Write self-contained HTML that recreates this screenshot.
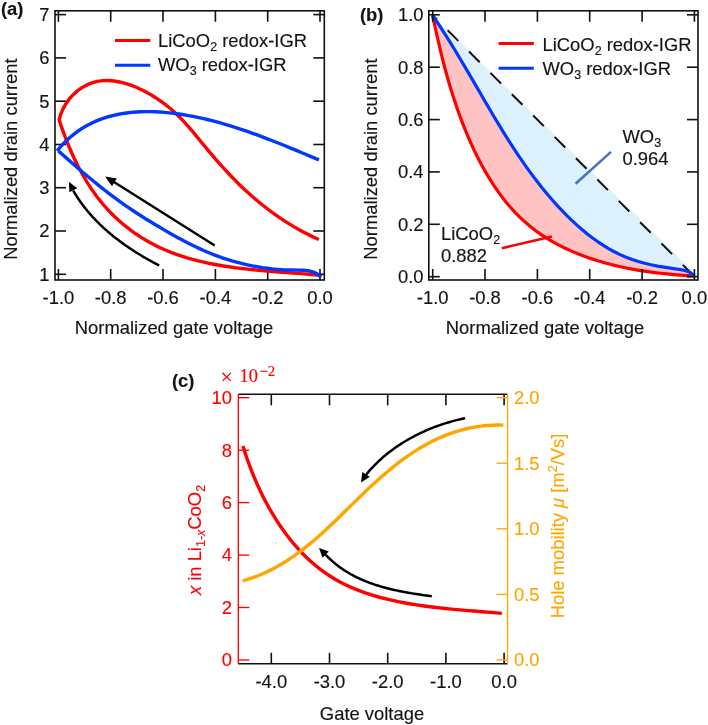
<!DOCTYPE html>
<html><head><meta charset="utf-8"><style>
html,body{margin:0;padding:0;background:#fff;}
svg{display:block;will-change:transform;}
</style></head><body>
<svg width="708" height="725" viewBox="0 0 708 725">
<rect width="708" height="725" fill="#fff"/>
<rect x="55" y="10.8" width="269.3" height="269.2" fill="none" stroke="#111" stroke-width="1.6"/>
<line x1="58.4" y1="280" x2="58.4" y2="269" stroke="#111" stroke-width="1.6"/>
<line x1="58.4" y1="10.8" x2="58.4" y2="21.8" stroke="#111" stroke-width="1.6"/>
<line x1="110.7" y1="280" x2="110.7" y2="269" stroke="#111" stroke-width="1.6"/>
<line x1="110.7" y1="10.8" x2="110.7" y2="21.8" stroke="#111" stroke-width="1.6"/>
<line x1="163.0" y1="280" x2="163.0" y2="269" stroke="#111" stroke-width="1.6"/>
<line x1="163.0" y1="10.8" x2="163.0" y2="21.8" stroke="#111" stroke-width="1.6"/>
<line x1="215.4" y1="280" x2="215.4" y2="269" stroke="#111" stroke-width="1.6"/>
<line x1="215.4" y1="10.8" x2="215.4" y2="21.8" stroke="#111" stroke-width="1.6"/>
<line x1="267.7" y1="280" x2="267.7" y2="269" stroke="#111" stroke-width="1.6"/>
<line x1="267.7" y1="10.8" x2="267.7" y2="21.8" stroke="#111" stroke-width="1.6"/>
<line x1="320.0" y1="280" x2="320.0" y2="269" stroke="#111" stroke-width="1.6"/>
<line x1="320.0" y1="10.8" x2="320.0" y2="21.8" stroke="#111" stroke-width="1.6"/>
<line x1="55" y1="274.3" x2="66" y2="274.3" stroke="#111" stroke-width="1.6"/>
<line x1="324.3" y1="274.3" x2="313.3" y2="274.3" stroke="#111" stroke-width="1.6"/>
<line x1="55" y1="231.0" x2="66" y2="231.0" stroke="#111" stroke-width="1.6"/>
<line x1="324.3" y1="231.0" x2="313.3" y2="231.0" stroke="#111" stroke-width="1.6"/>
<line x1="55" y1="187.7" x2="66" y2="187.7" stroke="#111" stroke-width="1.6"/>
<line x1="324.3" y1="187.7" x2="313.3" y2="187.7" stroke="#111" stroke-width="1.6"/>
<line x1="55" y1="144.5" x2="66" y2="144.5" stroke="#111" stroke-width="1.6"/>
<line x1="324.3" y1="144.5" x2="313.3" y2="144.5" stroke="#111" stroke-width="1.6"/>
<line x1="55" y1="101.2" x2="66" y2="101.2" stroke="#111" stroke-width="1.6"/>
<line x1="324.3" y1="101.2" x2="313.3" y2="101.2" stroke="#111" stroke-width="1.6"/>
<line x1="55" y1="57.9" x2="66" y2="57.9" stroke="#111" stroke-width="1.6"/>
<line x1="324.3" y1="57.9" x2="313.3" y2="57.9" stroke="#111" stroke-width="1.6"/>
<line x1="55" y1="14.6" x2="66" y2="14.6" stroke="#111" stroke-width="1.6"/>
<line x1="324.3" y1="14.6" x2="313.3" y2="14.6" stroke="#111" stroke-width="1.6"/>
<text x="58.4" y="304" font-family='"Liberation Sans", sans-serif' font-size="18.4" text-anchor="middle" fill="#141414" stroke="#141414" stroke-width="0.15" font-weight="normal" >-1.0</text>
<text x="110.7" y="304" font-family='"Liberation Sans", sans-serif' font-size="18.4" text-anchor="middle" fill="#141414" stroke="#141414" stroke-width="0.15" font-weight="normal" >-0.8</text>
<text x="163.0" y="304" font-family='"Liberation Sans", sans-serif' font-size="18.4" text-anchor="middle" fill="#141414" stroke="#141414" stroke-width="0.15" font-weight="normal" >-0.6</text>
<text x="215.4" y="304" font-family='"Liberation Sans", sans-serif' font-size="18.4" text-anchor="middle" fill="#141414" stroke="#141414" stroke-width="0.15" font-weight="normal" >-0.4</text>
<text x="267.7" y="304" font-family='"Liberation Sans", sans-serif' font-size="18.4" text-anchor="middle" fill="#141414" stroke="#141414" stroke-width="0.15" font-weight="normal" >-0.2</text>
<text x="320.0" y="304" font-family='"Liberation Sans", sans-serif' font-size="18.4" text-anchor="middle" fill="#141414" stroke="#141414" stroke-width="0.15" font-weight="normal" >0.0</text>
<text x="49.5" y="280.6" font-family='"Liberation Sans", sans-serif' font-size="18.4" text-anchor="end" fill="#141414" stroke="#141414" stroke-width="0.15" font-weight="normal" >1</text>
<text x="49.5" y="237.3" font-family='"Liberation Sans", sans-serif' font-size="18.4" text-anchor="end" fill="#141414" stroke="#141414" stroke-width="0.15" font-weight="normal" >2</text>
<text x="49.5" y="194.0" font-family='"Liberation Sans", sans-serif' font-size="18.4" text-anchor="end" fill="#141414" stroke="#141414" stroke-width="0.15" font-weight="normal" >3</text>
<text x="49.5" y="150.8" font-family='"Liberation Sans", sans-serif' font-size="18.4" text-anchor="end" fill="#141414" stroke="#141414" stroke-width="0.15" font-weight="normal" >4</text>
<text x="49.5" y="107.5" font-family='"Liberation Sans", sans-serif' font-size="18.4" text-anchor="end" fill="#141414" stroke="#141414" stroke-width="0.15" font-weight="normal" >5</text>
<text x="49.5" y="64.2" font-family='"Liberation Sans", sans-serif' font-size="18.4" text-anchor="end" fill="#141414" stroke="#141414" stroke-width="0.15" font-weight="normal" >6</text>
<text x="49.5" y="20.9" font-family='"Liberation Sans", sans-serif' font-size="18.4" text-anchor="end" fill="#141414" stroke="#141414" stroke-width="0.15" font-weight="normal" >7</text>
<text x="174" y="334" font-family='"Liberation Sans", sans-serif' font-size="18.4" text-anchor="middle" fill="#141414" stroke="#141414" stroke-width="0.15" font-weight="normal" >Normalized gate voltage</text>
<text x="17" y="159" font-family='"Liberation Sans", sans-serif' font-size="18.4" text-anchor="middle" fill="#141414" stroke="#141414" stroke-width="0.15" font-weight="normal" transform="rotate(-90 17 159)" >Normalized drain current</text>
<text x="1" y="14.5" font-family='"Liberation Sans", sans-serif' font-size="18.4" text-anchor="start" fill="#141414" stroke="#141414" stroke-width="0.15" font-weight="bold" >(a)</text>
<path d="M58.94,120.28 L60.70,114.39 L63.05,108.85 L65.94,103.69 L69.33,98.95 L73.17,94.66 L77.40,90.87 L81.98,87.62 L86.85,84.93 L91.97,82.86 L97.29,81.43 L102.75,80.67 L108.32,80.55 L113.94,80.99 L119.58,81.95 L125.20,83.35 L130.74,85.14 L136.18,87.26 L141.50,89.68 L146.69,92.36 L151.73,95.25 L156.62,98.32 L161.35,101.56 L165.91,104.96 L170.31,108.53 L174.55,112.26 L178.62,116.16 L182.56,120.21 L186.38,124.37 L190.11,128.63 L193.79,132.97 L197.42,137.35 L201.05,141.76 L204.69,146.16 L208.36,150.56 L212.05,154.94 L215.79,159.30 L219.56,163.62 L223.39,167.89 L227.26,172.12 L231.20,176.29 L235.20,180.40 L239.26,184.43 L243.40,188.40 L247.59,192.29 L251.86,196.10 L256.19,199.83 L260.59,203.47 L265.06,207.03 L269.60,210.49 L274.20,213.86 L278.87,217.14 L283.62,220.32 L288.43,223.39 L293.31,226.36 L298.26,229.22 L303.28,231.96 L308.38,234.60 L313.54,237.11 L318.78,239.50" fill="none" stroke="#FF0000" stroke-width="3.4" stroke-linejoin="round" stroke-linecap="butt" />
<path d="M319.90,275.22 L314.55,274.73 L309.15,274.28 L303.70,273.84 L298.20,273.42 L292.67,273.01 L287.10,272.60 L281.50,272.18 L275.88,271.75 L270.23,271.30 L264.57,270.83 L258.90,270.32 L253.23,269.77 L247.55,269.18 L241.87,268.53 L236.20,267.83 L230.55,267.05 L224.91,266.21 L219.29,265.28 L213.70,264.26 L208.14,263.15 L202.61,261.94 L197.13,260.62 L191.69,259.19 L186.30,257.63 L180.96,255.94 L175.68,254.12 L170.46,252.16 L165.31,250.05 L160.24,247.78 L155.24,245.36 L150.33,242.77 L145.50,240.01 L140.76,237.11 L136.12,234.04 L131.57,230.83 L127.14,227.46 L122.81,223.95 L118.60,220.29 L114.51,216.49 L110.55,212.55 L106.71,208.47 L103.01,204.25 L99.45,199.91 L96.03,195.43 L92.74,190.84 L89.58,186.14 L86.55,181.34 L83.65,176.46 L80.87,171.50 L78.20,166.46 L75.66,161.37 L73.22,156.23 L70.90,151.05 L68.68,145.83 L66.57,140.60 L64.55,135.35 L62.64,130.09 L60.81,124.85 L59.08,119.62" fill="none" stroke="#FF0000" stroke-width="3.4" stroke-linejoin="round" stroke-linecap="butt" />
<path d="M57.08,150.93 L60.44,146.90 L63.92,143.14 L67.50,139.62 L71.20,136.34 L74.99,133.31 L78.88,130.50 L82.85,127.91 L86.92,125.54 L91.07,123.39 L95.29,121.43 L99.58,119.68 L103.94,118.12 L108.37,116.74 L112.85,115.54 L117.38,114.51 L121.96,113.66 L126.59,112.96 L131.25,112.41 L135.94,112.02 L140.67,111.76 L145.42,111.64 L150.19,111.64 L154.97,111.77 L159.76,112.02 L164.56,112.37 L169.35,112.83 L174.15,113.38 L178.93,114.03 L183.70,114.76 L188.45,115.56 L193.19,116.45 L197.91,117.41 L202.61,118.44 L207.30,119.53 L211.97,120.70 L216.63,121.92 L221.27,123.20 L225.89,124.53 L230.49,125.92 L235.08,127.36 L239.65,128.84 L244.21,130.37 L248.75,131.94 L253.27,133.54 L257.77,135.18 L262.25,136.84 L266.72,138.54 L271.17,140.26 L275.60,142.00 L280.02,143.76 L284.42,145.53 L288.80,147.32 L293.16,149.11 L297.50,150.92 L301.82,152.72 L306.13,154.53 L310.42,156.33 L314.69,158.12 L318.94,159.91" fill="none" stroke="#0038FF" stroke-width="3.4" stroke-linejoin="round" stroke-linecap="butt" />
<path d="M321.19,277.12 L317.16,273.86 L312.74,271.82 L308.01,270.69 L303.05,270.21 L297.96,270.10 L292.82,270.07 L287.69,269.94 L282.58,269.70 L277.48,269.34 L272.41,268.87 L267.36,268.28 L262.33,267.58 L257.33,266.77 L252.35,265.85 L247.40,264.81 L242.48,263.67 L237.58,262.42 L232.72,261.07 L227.88,259.60 L223.08,258.03 L218.31,256.36 L213.58,254.59 L208.89,252.71 L204.23,250.73 L199.60,248.65 L195.01,246.50 L190.46,244.26 L185.93,241.95 L181.43,239.58 L176.96,237.16 L172.51,234.68 L168.09,232.17 L163.69,229.62 L159.31,227.04 L154.96,224.45 L150.62,221.83 L146.30,219.18 L142.01,216.49 L137.75,213.77 L133.52,211.00 L129.33,208.18 L125.16,205.31 L121.03,202.39 L116.93,199.42 L112.86,196.40 L108.82,193.34 L104.81,190.24 L100.82,187.10 L96.86,183.93 L92.93,180.73 L89.02,177.49 L85.12,174.24 L81.25,170.95 L77.40,167.65 L73.57,164.33 L69.75,160.99 L65.95,157.64 L62.16,154.29 L58.38,150.92" fill="none" stroke="#0038FF" stroke-width="3.4" stroke-linejoin="round" stroke-linecap="butt" />
<path d="M159.20,265.49 L157.48,264.60 L155.76,263.69 L154.04,262.78 L152.33,261.85 L150.62,260.92 L148.91,259.97 L147.21,259.01 L145.51,258.03 L143.82,257.05 L142.13,256.05 L140.45,255.04 L138.77,254.02 L137.10,252.99 L135.44,251.95 L133.79,250.89 L132.14,249.82 L130.50,248.74 L128.86,247.64 L127.24,246.53 L125.62,245.41 L124.02,244.28 L122.42,243.13 L120.83,241.97 L119.25,240.80 L117.69,239.61 L116.13,238.41 L114.59,237.20 L113.06,235.97 L111.53,234.73 L110.03,233.48 L108.53,232.21 L107.05,230.92 L105.58,229.63 L104.12,228.32 L102.68,226.99 L101.25,225.65 L99.84,224.30 L98.45,222.93 L97.06,221.54 L95.70,220.14 L94.35,218.73 L93.02,217.30 L91.70,215.86 L90.40,214.40 L89.12,212.93 L87.86,211.44 L86.62,209.93 L85.39,208.41 L84.18,206.88 L83.00,205.32 L81.83,203.76 L80.68,202.17 L79.56,200.57 L78.45,198.96 L77.37,197.33 L76.31,195.68 L75.26,194.01 L74.25,192.33 L73.25,190.64" fill="none" stroke="#000" stroke-width="2.5" stroke-linejoin="round" stroke-linecap="butt" />
<polygon points="68.9,181.8 77.2,188.2 69.4,192.3" fill="#000"/>
<line x1="214.7" y1="245.5" x2="112" y2="180.8" stroke="#000" stroke-width="2.5"/>
<polygon points="105.1,176.5 116.8,178.6 112.0,186.2" fill="#000"/>
<line x1="115" y1="40.6" x2="150.3" y2="40.6" stroke="#FF0000" stroke-width="3"/>
<line x1="115" y1="65.2" x2="150.3" y2="65.2" stroke="#0038FF" stroke-width="3"/>
<text x="158" y="46.8" font-family='"Liberation Sans", sans-serif' font-size="18.4" fill="#141414" stroke="#141414" stroke-width="0.15">LiCoO<tspan font-size="12.5" dy="4">2</tspan><tspan dy="-4"> redox-IGR</tspan></text>
<text x="158" y="71.2" font-family='"Liberation Sans", sans-serif' font-size="18.4" fill="#141414" stroke="#141414" stroke-width="0.15">WO<tspan font-size="12.5" dy="4">3</tspan><tspan dy="-4"> redox-IGR</tspan></text>
<path d="M432.40,15.61 L434.25,18.22 L436.09,20.84 L437.91,23.48 L439.72,26.13 L441.51,28.80 L443.29,31.47 L445.06,34.17 L446.81,36.87 L448.55,39.59 L450.28,42.31 L452.00,45.05 L453.70,47.80 L455.40,50.55 L457.09,53.32 L458.77,56.09 L460.44,58.87 L462.11,61.66 L463.77,64.46 L465.42,67.26 L467.07,70.07 L468.72,72.88 L470.36,75.70 L472.00,78.52 L473.63,81.34 L475.26,84.17 L476.89,87.00 L478.53,89.83 L480.16,92.66 L481.79,95.49 L483.42,98.33 L485.05,101.16 L486.69,103.99 L488.33,106.82 L489.97,109.65 L491.62,112.47 L493.27,115.29 L494.93,118.11 L496.59,120.93 L498.26,123.74 L499.94,126.54 L501.63,129.34 L503.32,132.13 L505.03,134.91 L506.74,137.69 L508.47,140.46 L510.20,143.21 L511.95,145.96 L513.71,148.70 L515.49,151.43 L517.27,154.15 L519.07,156.86 L520.89,159.56 L522.72,162.24 L524.57,164.91 L526.44,167.57 L528.32,170.21 L530.22,172.84 L532.14,175.45 L534.08,178.04 L536.04,180.62 L538.02,183.19 L540.02,185.73 L542.05,188.26 L544.09,190.77 L546.16,193.26 L548.25,195.72 L550.37,198.17 L552.51,200.60 L554.68,203.01 L556.87,205.39 L559.10,207.76 L561.35,210.10 L563.62,212.41 L565.93,214.71 L568.26,216.97 L570.63,219.21 L573.02,221.42 L575.44,223.60 L577.89,225.75 L580.37,227.86 L582.87,229.93 L585.41,231.97 L587.97,233.97 L590.56,235.94 L593.18,237.85 L595.83,239.73 L598.50,241.56 L601.21,243.34 L603.94,245.07 L606.70,246.75 L609.49,248.38 L612.30,249.96 L615.15,251.48 L618.02,252.94 L620.92,254.35 L623.84,255.69 L626.80,256.98 L629.78,258.20 L632.79,259.35 L635.82,260.44 L638.88,261.47 L641.96,262.45 L645.06,263.37 L648.18,264.24 L651.31,265.06 L654.45,265.84 L657.60,266.59 L660.76,267.29 L663.92,267.96 L667.09,268.60 L670.26,269.21 L673.43,269.80 L676.59,270.37 L679.75,270.92 L682.90,271.46 L686.03,271.99 L689.16,272.51 L692.27,273.02 L695.36,273.54 L432.6,15.2 Z" fill="#DDF1FC" stroke="none"/>
<path d="M433.31,15.84 L433.90,19.00 L434.50,22.19 L435.11,25.39 L435.74,28.62 L436.39,31.86 L437.05,35.12 L437.73,38.39 L438.43,41.68 L439.15,44.98 L439.88,48.29 L440.64,51.62 L441.41,54.95 L442.20,58.29 L443.01,61.64 L443.85,65.00 L444.70,68.37 L445.58,71.73 L446.48,75.11 L447.40,78.48 L448.34,81.86 L449.31,85.23 L450.30,88.61 L451.31,91.98 L452.35,95.35 L453.42,98.72 L454.51,102.08 L455.62,105.44 L456.77,108.78 L457.93,112.13 L459.13,115.46 L460.36,118.78 L461.61,122.09 L462.89,125.38 L464.20,128.67 L465.54,131.94 L466.91,135.19 L468.31,138.43 L469.74,141.64 L471.20,144.84 L472.70,148.02 L474.22,151.18 L475.78,154.32 L477.37,157.43 L479.00,160.52 L480.66,163.58 L482.35,166.62 L484.08,169.63 L485.84,172.61 L487.64,175.56 L489.48,178.49 L491.35,181.37 L493.26,184.23 L495.20,187.05 L497.19,189.84 L499.21,192.59 L501.27,195.31 L503.37,197.98 L505.51,200.62 L507.69,203.22 L509.92,205.77 L512.18,208.28 L514.48,210.75 L516.83,213.18 L519.21,215.56 L521.65,217.89 L524.12,220.17 L526.64,222.41 L529.20,224.59 L531.80,226.73 L534.45,228.81 L537.14,230.84 L539.88,232.83 L542.65,234.76 L545.46,236.65 L548.31,238.48 L551.19,240.27 L554.11,242.01 L557.07,243.70 L560.06,245.34 L563.08,246.93 L566.13,248.48 L569.22,249.98 L572.33,251.44 L575.47,252.84 L578.64,254.20 L581.83,255.52 L585.05,256.79 L588.29,258.01 L591.56,259.19 L594.84,260.33 L598.15,261.42 L601.48,262.47 L604.82,263.47 L608.18,264.43 L611.56,265.34 L614.95,266.22 L618.36,267.05 L621.78,267.84 L625.21,268.58 L628.66,269.29 L632.11,269.95 L635.57,270.57 L639.04,271.15 L642.51,271.69 L646.00,272.19 L649.48,272.65 L652.97,273.08 L656.46,273.46 L659.95,273.80 L663.44,274.10 L666.93,274.37 L670.42,274.60 L673.90,274.78 L677.39,274.94 L680.86,275.05 L684.33,275.13 L687.79,275.17 L691.24,275.17 L694.68,275.14 L694.3,276.4 L695.36,273.54 L692.27,273.02 L689.16,272.51 L686.03,271.99 L682.90,271.46 L679.75,270.92 L676.59,270.37 L673.43,269.80 L670.26,269.21 L667.09,268.60 L663.92,267.96 L660.76,267.29 L657.60,266.59 L654.45,265.84 L651.31,265.06 L648.18,264.24 L645.06,263.37 L641.96,262.45 L638.88,261.47 L635.82,260.44 L632.79,259.35 L629.78,258.20 L626.80,256.98 L623.84,255.69 L620.92,254.35 L618.02,252.94 L615.15,251.48 L612.30,249.96 L609.49,248.38 L606.70,246.75 L603.94,245.07 L601.21,243.34 L598.50,241.56 L595.83,239.73 L593.18,237.85 L590.56,235.94 L587.97,233.97 L585.41,231.97 L582.87,229.93 L580.37,227.86 L577.89,225.75 L575.44,223.60 L573.02,221.42 L570.63,219.21 L568.26,216.97 L565.93,214.71 L563.62,212.41 L561.35,210.10 L559.10,207.76 L556.87,205.39 L554.68,203.01 L552.51,200.60 L550.37,198.17 L548.25,195.72 L546.16,193.26 L544.09,190.77 L542.05,188.26 L540.02,185.73 L538.02,183.19 L536.04,180.62 L534.08,178.04 L532.14,175.45 L530.22,172.84 L528.32,170.21 L526.44,167.57 L524.57,164.91 L522.72,162.24 L520.89,159.56 L519.07,156.86 L517.27,154.15 L515.49,151.43 L513.71,148.70 L511.95,145.96 L510.20,143.21 L508.47,140.46 L506.74,137.69 L505.03,134.91 L503.32,132.13 L501.63,129.34 L499.94,126.54 L498.26,123.74 L496.59,120.93 L494.93,118.11 L493.27,115.29 L491.62,112.47 L489.97,109.65 L488.33,106.82 L486.69,103.99 L485.05,101.16 L483.42,98.33 L481.79,95.49 L480.16,92.66 L478.53,89.83 L476.89,87.00 L475.26,84.17 L473.63,81.34 L472.00,78.52 L470.36,75.70 L468.72,72.88 L467.07,70.07 L465.42,67.26 L463.77,64.46 L462.11,61.66 L460.44,58.87 L458.77,56.09 L457.09,53.32 L455.40,50.55 L453.70,47.80 L452.00,45.05 L450.28,42.31 L448.55,39.59 L446.81,36.87 L445.06,34.17 L443.29,31.47 L441.51,28.80 L439.72,26.13 L437.91,23.48 L436.09,20.84 L434.25,18.22 L432.40,15.61 Z" fill="#FFC3C3" stroke="none"/>
<line x1="432.6" y1="15.2" x2="694.5" y2="276.5" stroke="#111" stroke-width="2" stroke-dasharray="15 15.2" stroke-dashoffset="8.9"/>
<path d="M432.63,15.38 L434.05,22.16 L435.51,28.92 L437.00,35.69 L438.54,42.44 L440.13,49.18 L441.76,55.91 L443.46,62.63 L445.23,69.33 L447.06,76.02 L448.96,82.70 L450.95,89.36 L453.02,96.00 L455.18,102.62 L457.44,109.23 L459.80,115.81 L462.26,122.38 L464.83,128.92 L467.52,135.44 L470.33,141.92 L473.27,148.37 L476.34,154.76 L479.54,161.07 L482.89,167.31 L486.37,173.45 L490.01,179.47 L493.81,185.38 L497.76,191.14 L501.88,196.75 L506.16,202.20 L510.62,207.47 L515.26,212.55 L520.08,217.42 L525.09,222.08 L530.29,226.50 L535.69,230.68 L541.26,234.64 L547.01,238.36 L552.91,241.87 L558.96,245.16 L565.15,248.25 L571.47,251.13 L577.90,253.82 L584.43,256.32 L591.06,258.64 L597.76,260.79 L604.54,262.76 L611.38,264.57 L618.27,266.23 L625.19,267.73 L632.14,269.09 L639.11,270.32 L646.08,271.41 L653.04,272.38 L659.99,273.23 L666.91,273.96 L673.79,274.59 L680.62,275.12 L687.38,275.56 L694.08,275.91" fill="none" stroke="#FF0000" stroke-width="3.2" stroke-linejoin="round" stroke-linecap="butt" />
<path d="M432.51,15.31 L436.19,20.70 L439.81,26.15 L443.37,31.63 L446.89,37.15 L450.36,42.70 L453.79,48.28 L457.19,53.89 L460.57,59.51 L463.92,65.16 L467.24,70.82 L470.56,76.49 L473.86,82.17 L477.17,87.86 L480.47,93.54 L483.77,99.22 L487.09,104.90 L490.41,110.56 L493.76,116.21 L497.13,121.84 L500.54,127.45 L503.97,133.04 L507.44,138.59 L510.96,144.12 L514.52,149.61 L518.14,155.06 L521.81,160.47 L525.55,165.83 L529.35,171.14 L533.23,176.39 L537.18,181.59 L541.21,186.73 L545.33,191.81 L549.54,196.81 L553.85,201.75 L558.25,206.61 L562.77,211.39 L567.39,216.09 L572.12,220.69 L576.97,225.17 L581.94,229.52 L587.02,233.71 L592.22,237.73 L597.55,241.57 L603.00,245.19 L608.57,248.59 L614.28,251.74 L620.11,254.63 L626.07,257.24 L632.16,259.55 L638.38,261.56 L644.70,263.30 L651.10,264.79 L657.55,266.09 L664.02,267.20 L670.49,268.17 L676.93,269.04 L683.26,270.05 L689.21,272.02 L694.51,275.83" fill="none" stroke="#0038FF" stroke-width="3.2" stroke-linejoin="round" stroke-linecap="butt" />
<rect x="428.8" y="10.8" width="269.2" height="269.2" fill="none" stroke="#111" stroke-width="1.6"/>
<line x1="432.7" y1="280" x2="432.7" y2="269" stroke="#111" stroke-width="1.6"/>
<line x1="432.7" y1="10.8" x2="432.7" y2="21.8" stroke="#111" stroke-width="1.6"/>
<line x1="485.0" y1="280" x2="485.0" y2="269" stroke="#111" stroke-width="1.6"/>
<line x1="485.0" y1="10.8" x2="485.0" y2="21.8" stroke="#111" stroke-width="1.6"/>
<line x1="537.4" y1="280" x2="537.4" y2="269" stroke="#111" stroke-width="1.6"/>
<line x1="537.4" y1="10.8" x2="537.4" y2="21.8" stroke="#111" stroke-width="1.6"/>
<line x1="589.7" y1="280" x2="589.7" y2="269" stroke="#111" stroke-width="1.6"/>
<line x1="589.7" y1="10.8" x2="589.7" y2="21.8" stroke="#111" stroke-width="1.6"/>
<line x1="642.1" y1="280" x2="642.1" y2="269" stroke="#111" stroke-width="1.6"/>
<line x1="642.1" y1="10.8" x2="642.1" y2="21.8" stroke="#111" stroke-width="1.6"/>
<line x1="694.4" y1="280" x2="694.4" y2="269" stroke="#111" stroke-width="1.6"/>
<line x1="694.4" y1="10.8" x2="694.4" y2="21.8" stroke="#111" stroke-width="1.6"/>
<line x1="428.8" y1="276.7" x2="439.8" y2="276.7" stroke="#111" stroke-width="1.6"/>
<line x1="698" y1="276.7" x2="687" y2="276.7" stroke="#111" stroke-width="1.6"/>
<line x1="428.8" y1="224.3" x2="439.8" y2="224.3" stroke="#111" stroke-width="1.6"/>
<line x1="698" y1="224.3" x2="687" y2="224.3" stroke="#111" stroke-width="1.6"/>
<line x1="428.8" y1="171.9" x2="439.8" y2="171.9" stroke="#111" stroke-width="1.6"/>
<line x1="698" y1="171.9" x2="687" y2="171.9" stroke="#111" stroke-width="1.6"/>
<line x1="428.8" y1="119.6" x2="439.8" y2="119.6" stroke="#111" stroke-width="1.6"/>
<line x1="698" y1="119.6" x2="687" y2="119.6" stroke="#111" stroke-width="1.6"/>
<line x1="428.8" y1="67.2" x2="439.8" y2="67.2" stroke="#111" stroke-width="1.6"/>
<line x1="698" y1="67.2" x2="687" y2="67.2" stroke="#111" stroke-width="1.6"/>
<line x1="428.8" y1="14.8" x2="439.8" y2="14.8" stroke="#111" stroke-width="1.6"/>
<line x1="698" y1="14.8" x2="687" y2="14.8" stroke="#111" stroke-width="1.6"/>
<text x="432.7" y="304" font-family='"Liberation Sans", sans-serif' font-size="18.4" text-anchor="middle" fill="#141414" stroke="#141414" stroke-width="0.15" font-weight="normal" >-1.0</text>
<text x="485.0" y="304" font-family='"Liberation Sans", sans-serif' font-size="18.4" text-anchor="middle" fill="#141414" stroke="#141414" stroke-width="0.15" font-weight="normal" >-0.8</text>
<text x="537.4" y="304" font-family='"Liberation Sans", sans-serif' font-size="18.4" text-anchor="middle" fill="#141414" stroke="#141414" stroke-width="0.15" font-weight="normal" >-0.6</text>
<text x="589.7" y="304" font-family='"Liberation Sans", sans-serif' font-size="18.4" text-anchor="middle" fill="#141414" stroke="#141414" stroke-width="0.15" font-weight="normal" >-0.4</text>
<text x="642.1" y="304" font-family='"Liberation Sans", sans-serif' font-size="18.4" text-anchor="middle" fill="#141414" stroke="#141414" stroke-width="0.15" font-weight="normal" >-0.2</text>
<text x="694.4" y="304" font-family='"Liberation Sans", sans-serif' font-size="18.4" text-anchor="middle" fill="#141414" stroke="#141414" stroke-width="0.15" font-weight="normal" >0.0</text>
<text x="423.5" y="283.0" font-family='"Liberation Sans", sans-serif' font-size="18.4" text-anchor="end" fill="#141414" stroke="#141414" stroke-width="0.15" font-weight="normal" >0.0</text>
<text x="423.5" y="230.6" font-family='"Liberation Sans", sans-serif' font-size="18.4" text-anchor="end" fill="#141414" stroke="#141414" stroke-width="0.15" font-weight="normal" >0.2</text>
<text x="423.5" y="178.2" font-family='"Liberation Sans", sans-serif' font-size="18.4" text-anchor="end" fill="#141414" stroke="#141414" stroke-width="0.15" font-weight="normal" >0.4</text>
<text x="423.5" y="125.9" font-family='"Liberation Sans", sans-serif' font-size="18.4" text-anchor="end" fill="#141414" stroke="#141414" stroke-width="0.15" font-weight="normal" >0.6</text>
<text x="423.5" y="73.5" font-family='"Liberation Sans", sans-serif' font-size="18.4" text-anchor="end" fill="#141414" stroke="#141414" stroke-width="0.15" font-weight="normal" >0.8</text>
<text x="423.5" y="21.1" font-family='"Liberation Sans", sans-serif' font-size="18.4" text-anchor="end" fill="#141414" stroke="#141414" stroke-width="0.15" font-weight="normal" >1.0</text>
<text x="545" y="334" font-family='"Liberation Sans", sans-serif' font-size="18.4" text-anchor="middle" fill="#141414" stroke="#141414" stroke-width="0.15" font-weight="normal" >Normalized gate voltage</text>
<text x="377" y="159" font-family='"Liberation Sans", sans-serif' font-size="18.4" text-anchor="middle" fill="#141414" stroke="#141414" stroke-width="0.15" font-weight="normal" transform="rotate(-90 377 159)" >Normalized drain current</text>
<text x="360" y="21" font-family='"Liberation Sans", sans-serif' font-size="18.4" text-anchor="start" fill="#141414" stroke="#141414" stroke-width="0.15" font-weight="bold" >(b)</text>
<line x1="498.6" y1="43.6" x2="533.8" y2="43.6" stroke="#FF0000" stroke-width="3"/>
<line x1="498.6" y1="68.3" x2="533.8" y2="68.3" stroke="#0038FF" stroke-width="3"/>
<text x="542.5" y="50.5" font-family='"Liberation Sans", sans-serif' font-size="18.4" fill="#141414" stroke="#141414" stroke-width="0.15">LiCoO<tspan font-size="12.5" dy="4">2</tspan><tspan dy="-4"> redox-IGR</tspan></text>
<text x="542.5" y="75.1" font-family='"Liberation Sans", sans-serif' font-size="18.4" fill="#141414" stroke="#141414" stroke-width="0.15">WO<tspan font-size="12.5" dy="4">3</tspan><tspan dy="-4"> redox-IGR</tspan></text>
<text x="441" y="239.5" font-family='"Liberation Sans", sans-serif' font-size="18.4" fill="#141414" stroke="#141414" stroke-width="0.15">LiCoO<tspan font-size="12.5" dy="4">2</tspan></text>
<text x="441" y="262" font-family='"Liberation Sans", sans-serif' font-size="18.4" text-anchor="start" fill="#141414" stroke="#141414" stroke-width="0.15" font-weight="normal" >0.882</text>
<text x="622.5" y="143" font-family='"Liberation Sans", sans-serif' font-size="18.4" fill="#141414" stroke="#141414" stroke-width="0.15">WO<tspan font-size="12.5" dy="4">3</tspan></text>
<text x="622.5" y="165.2" font-family='"Liberation Sans", sans-serif' font-size="18.4" text-anchor="start" fill="#141414" stroke="#141414" stroke-width="0.15" font-weight="normal" >0.964</text>
<line x1="501.8" y1="248.3" x2="551.9" y2="236.5" stroke="#FF0000" stroke-width="2.5"/>
<line x1="575.6" y1="183.8" x2="611" y2="151.9" stroke="#4472C4" stroke-width="2.5"/>
<path d="M242.95,445.91 L244.59,451.18 L246.33,456.47 L248.18,461.77 L250.13,467.08 L252.20,472.40 L254.36,477.70 L256.64,482.99 L259.02,488.25 L261.51,493.48 L264.11,498.67 L266.82,503.81 L269.64,508.90 L272.57,513.92 L275.61,518.87 L278.77,523.75 L282.04,528.53 L285.42,533.22 L288.91,537.81 L292.52,542.28 L296.25,546.64 L300.09,550.87 L304.04,554.96 L308.12,558.91 L312.31,562.71 L316.62,566.36 L321.05,569.83 L325.60,573.14 L330.27,576.26 L335.06,579.19 L339.96,581.93 L344.98,584.49 L350.09,586.88 L355.30,589.11 L360.60,591.17 L365.97,593.09 L371.42,594.86 L376.93,596.50 L382.49,598.02 L388.10,599.41 L393.75,600.70 L399.44,601.88 L405.15,602.96 L410.87,603.96 L416.61,604.88 L422.35,605.72 L428.09,606.50 L433.83,607.22 L439.56,607.88 L445.29,608.50 L451.01,609.07 L456.73,609.61 L462.43,610.11 L468.11,610.60 L473.78,611.06 L479.43,611.52 L485.07,611.96 L490.68,612.41 L496.26,612.87 L501.82,613.33" fill="none" stroke="#FF0000" stroke-width="3.4" stroke-linejoin="round" stroke-linecap="butt" />
<path d="M242.63,580.84 L247.82,579.33 L252.89,577.65 L257.85,575.80 L262.71,573.78 L267.48,571.62 L272.14,569.30 L276.72,566.85 L281.22,564.26 L285.64,561.55 L289.98,558.72 L294.26,555.78 L298.46,552.74 L302.61,549.60 L306.70,546.38 L310.75,543.07 L314.74,539.68 L318.70,536.23 L322.62,532.72 L326.50,529.16 L330.36,525.56 L334.20,521.91 L338.02,518.23 L341.82,514.53 L345.62,510.82 L349.42,507.09 L353.21,503.37 L357.02,499.65 L360.83,495.94 L364.66,492.25 L368.51,488.59 L372.38,484.97 L376.29,481.38 L380.23,477.85 L384.21,474.37 L388.23,470.95 L392.30,467.61 L396.41,464.34 L400.58,461.16 L404.80,458.06 L409.07,455.06 L413.40,452.17 L417.79,449.38 L422.23,446.71 L426.75,444.17 L431.32,441.75 L435.97,439.46 L440.68,437.32 L445.46,435.33 L450.32,433.50 L455.25,431.82 L460.26,430.32 L465.35,428.99 L470.52,427.84 L475.77,426.88 L481.11,426.11 L486.54,425.55 L492.06,425.19 L497.67,425.05 L503.37,425.12" fill="none" stroke="#FFA500" stroke-width="3.4" stroke-linejoin="round" stroke-linecap="butt" />
<path d="M465.12,418.16 L463.22,418.56 L461.32,418.98 L459.42,419.43 L457.51,419.89 L455.61,420.37 L453.71,420.87 L451.82,421.39 L449.92,421.93 L448.03,422.49 L446.14,423.07 L444.25,423.66 L442.37,424.28 L440.49,424.92 L438.61,425.58 L436.74,426.25 L434.88,426.95 L433.02,427.66 L431.17,428.39 L429.32,429.15 L427.48,429.92 L425.65,430.71 L423.83,431.52 L422.02,432.36 L420.21,433.21 L418.41,434.08 L416.63,434.97 L414.85,435.87 L413.08,436.80 L411.33,437.75 L409.58,438.72 L407.85,439.70 L406.13,440.71 L404.42,441.73 L402.72,442.78 L401.04,443.84 L399.37,444.93 L397.72,446.03 L396.08,447.15 L394.45,448.30 L392.84,449.46 L391.25,450.64 L389.67,451.84 L388.11,453.06 L386.56,454.30 L385.04,455.56 L383.53,456.83 L382.04,458.13 L380.57,459.45 L379.11,460.78 L377.68,462.14 L376.27,463.52 L374.87,464.91 L373.50,466.32 L372.15,467.76 L370.82,469.21 L369.51,470.68 L368.23,472.18 L366.97,473.69 L365.73,475.22" fill="none" stroke="#000" stroke-width="2.5" stroke-linejoin="round" stroke-linecap="butt" />
<polygon points="361.0,482.5 362.3,472.1 369.8,476.8" fill="#000"/>
<path d="M431.78,596.21 L429.83,595.96 L427.87,595.70 L425.91,595.44 L423.94,595.17 L421.97,594.89 L419.99,594.60 L418.01,594.31 L416.03,594.01 L414.04,593.70 L412.06,593.38 L410.07,593.04 L408.08,592.70 L406.09,592.34 L404.10,591.98 L402.11,591.60 L400.13,591.20 L398.14,590.79 L396.16,590.37 L394.18,589.93 L392.21,589.48 L390.24,589.01 L388.27,588.52 L386.31,588.01 L384.36,587.49 L382.41,586.95 L380.47,586.38 L378.54,585.80 L376.62,585.20 L374.70,584.57 L372.80,583.93 L370.90,583.26 L369.02,582.57 L367.14,581.85 L365.28,581.11 L363.43,580.35 L361.59,579.56 L359.77,578.74 L357.96,577.90 L356.16,577.03 L354.38,576.13 L352.61,575.20 L350.86,574.25 L349.13,573.26 L347.41,572.24 L345.72,571.20 L344.04,570.12 L342.38,569.01 L340.73,567.87 L339.11,566.69 L337.51,565.48 L335.93,564.24 L334.37,562.96 L332.83,561.65 L331.32,560.30 L329.83,558.91 L328.36,557.48 L326.92,556.02 L325.50,554.52 L324.11,552.98" fill="none" stroke="#000" stroke-width="2.5" stroke-linejoin="round" stroke-linecap="butt" />
<polygon points="319.0,547.9 328.8,551.6 322.5,557.8" fill="#000"/>
<line x1="238.3" y1="394.3" x2="507.5" y2="394.3" stroke="#111" stroke-width="1.6"/>
<line x1="238.3" y1="663.8" x2="507.5" y2="663.8" stroke="#111" stroke-width="1.6"/>
<line x1="238.3" y1="394.3" x2="238.3" y2="663.8" stroke="#FF0000" stroke-width="1.35"/>
<line x1="507.5" y1="394.3" x2="507.5" y2="663.8" stroke="#FFA500" stroke-width="1.35"/>
<line x1="271.3" y1="663.8" x2="271.3" y2="652.8" stroke="#111" stroke-width="1.6"/>
<line x1="271.3" y1="394.3" x2="271.3" y2="405.3" stroke="#111" stroke-width="1.6"/>
<line x1="329.5" y1="663.8" x2="329.5" y2="652.8" stroke="#111" stroke-width="1.6"/>
<line x1="329.5" y1="394.3" x2="329.5" y2="405.3" stroke="#111" stroke-width="1.6"/>
<line x1="387.7" y1="663.8" x2="387.7" y2="652.8" stroke="#111" stroke-width="1.6"/>
<line x1="387.7" y1="394.3" x2="387.7" y2="405.3" stroke="#111" stroke-width="1.6"/>
<line x1="445.9" y1="663.8" x2="445.9" y2="652.8" stroke="#111" stroke-width="1.6"/>
<line x1="445.9" y1="394.3" x2="445.9" y2="405.3" stroke="#111" stroke-width="1.6"/>
<line x1="504.1" y1="663.8" x2="504.1" y2="652.8" stroke="#111" stroke-width="1.6"/>
<line x1="504.1" y1="394.3" x2="504.1" y2="405.3" stroke="#111" stroke-width="1.6"/>
<line x1="238.3" y1="660.0" x2="249.3" y2="660.0" stroke="#FF0000" stroke-width="1.35"/>
<text x="232" y="666.3" font-family='"Liberation Sans", sans-serif' font-size="18.4" text-anchor="end" fill="#FF0000" stroke="#FF0000" stroke-width="0.15" font-weight="normal" >0</text>
<line x1="238.3" y1="607.5" x2="249.3" y2="607.5" stroke="#FF0000" stroke-width="1.35"/>
<text x="232" y="613.8" font-family='"Liberation Sans", sans-serif' font-size="18.4" text-anchor="end" fill="#FF0000" stroke="#FF0000" stroke-width="0.15" font-weight="normal" >2</text>
<line x1="238.3" y1="555.1" x2="249.3" y2="555.1" stroke="#FF0000" stroke-width="1.35"/>
<text x="232" y="561.4" font-family='"Liberation Sans", sans-serif' font-size="18.4" text-anchor="end" fill="#FF0000" stroke="#FF0000" stroke-width="0.15" font-weight="normal" >4</text>
<line x1="238.3" y1="502.6" x2="249.3" y2="502.6" stroke="#FF0000" stroke-width="1.35"/>
<text x="232" y="508.9" font-family='"Liberation Sans", sans-serif' font-size="18.4" text-anchor="end" fill="#FF0000" stroke="#FF0000" stroke-width="0.15" font-weight="normal" >6</text>
<line x1="238.3" y1="450.2" x2="249.3" y2="450.2" stroke="#FF0000" stroke-width="1.35"/>
<text x="232" y="456.5" font-family='"Liberation Sans", sans-serif' font-size="18.4" text-anchor="end" fill="#FF0000" stroke="#FF0000" stroke-width="0.15" font-weight="normal" >8</text>
<line x1="238.3" y1="397.7" x2="249.3" y2="397.7" stroke="#FF0000" stroke-width="1.35"/>
<text x="232" y="404.0" font-family='"Liberation Sans", sans-serif' font-size="18.4" text-anchor="end" fill="#FF0000" stroke="#FF0000" stroke-width="0.15" font-weight="normal" >10</text>
<line x1="507.5" y1="660.0" x2="496.5" y2="660.0" stroke="#FFA500" stroke-width="1.35"/>
<text x="514" y="666.3" font-family='"Liberation Sans", sans-serif' font-size="18.4" text-anchor="start" fill="#FFA500" stroke="#FFA500" stroke-width="0.15" font-weight="normal" >0.0</text>
<line x1="507.5" y1="594.4" x2="496.5" y2="594.4" stroke="#FFA500" stroke-width="1.35"/>
<text x="514" y="600.7" font-family='"Liberation Sans", sans-serif' font-size="18.4" text-anchor="start" fill="#FFA500" stroke="#FFA500" stroke-width="0.15" font-weight="normal" >0.5</text>
<line x1="507.5" y1="528.8" x2="496.5" y2="528.8" stroke="#FFA500" stroke-width="1.35"/>
<text x="514" y="535.1" font-family='"Liberation Sans", sans-serif' font-size="18.4" text-anchor="start" fill="#FFA500" stroke="#FFA500" stroke-width="0.15" font-weight="normal" >1.0</text>
<line x1="507.5" y1="463.2" x2="496.5" y2="463.2" stroke="#FFA500" stroke-width="1.35"/>
<text x="514" y="469.5" font-family='"Liberation Sans", sans-serif' font-size="18.4" text-anchor="start" fill="#FFA500" stroke="#FFA500" stroke-width="0.15" font-weight="normal" >1.5</text>
<line x1="507.5" y1="397.6" x2="496.5" y2="397.6" stroke="#FFA500" stroke-width="1.35"/>
<text x="514" y="403.9" font-family='"Liberation Sans", sans-serif' font-size="18.4" text-anchor="start" fill="#FFA500" stroke="#FFA500" stroke-width="0.15" font-weight="normal" >2.0</text>
<text x="271.3" y="687.5" font-family='"Liberation Sans", sans-serif' font-size="18.4" text-anchor="middle" fill="#141414" stroke="#141414" stroke-width="0.15" font-weight="normal" >-4.0</text>
<text x="329.5" y="687.5" font-family='"Liberation Sans", sans-serif' font-size="18.4" text-anchor="middle" fill="#141414" stroke="#141414" stroke-width="0.15" font-weight="normal" >-3.0</text>
<text x="387.7" y="687.5" font-family='"Liberation Sans", sans-serif' font-size="18.4" text-anchor="middle" fill="#141414" stroke="#141414" stroke-width="0.15" font-weight="normal" >-2.0</text>
<text x="445.9" y="687.5" font-family='"Liberation Sans", sans-serif' font-size="18.4" text-anchor="middle" fill="#141414" stroke="#141414" stroke-width="0.15" font-weight="normal" >-1.0</text>
<text x="504.1" y="687.5" font-family='"Liberation Sans", sans-serif' font-size="18.4" text-anchor="middle" fill="#141414" stroke="#141414" stroke-width="0.15" font-weight="normal" >0.0</text>
<text x="372" y="719.5" font-family='"Liberation Sans", sans-serif' font-size="18.4" text-anchor="middle" fill="#141414" stroke="#141414" stroke-width="0.15" font-weight="normal" >Gate voltage</text>
<text x="172" y="386.5" font-family='"Liberation Sans", sans-serif' font-size="18.4" text-anchor="start" fill="#141414" stroke="#141414" stroke-width="0.15" font-weight="bold" >(c)</text>
<text x="220.5" y="383.5" font-family='"Liberation Serif", serif' font-size="22" fill="#FF0000" stroke="#FF0000" stroke-width="0.15">×</text>
<text x="239.5" y="381.5" font-family='"Liberation Serif", serif' font-size="18.4" fill="#FF0000" stroke="#FF0000" stroke-width="0.15">10</text>
<text x="259.5" y="375.5" font-family='"Liberation Serif", serif' font-size="14.8" fill="#FF0000" stroke="#FF0000" stroke-width="0.15">−2</text>
<text transform="translate(200.7 540) rotate(-90)" text-anchor="middle" font-family='"Liberation Sans", sans-serif' font-size="18.4" fill="#FF0000" stroke="#FF0000" stroke-width="0.15"><tspan font-style="italic">x</tspan> in Li<tspan font-size="12.5" dy="4">1-<tspan font-style="italic">x</tspan></tspan><tspan dy="-4">CoO</tspan><tspan font-size="12.5" dy="4">2</tspan></text>
<text transform="translate(564 526) rotate(-90)" text-anchor="middle" font-family='"Liberation Sans", sans-serif' font-size="18.4" fill="#FFA500" stroke="#FFA500" stroke-width="0.15">Hole mobility <tspan font-style="italic">μ</tspan> [m<tspan font-size="12.5" dy="-7">2</tspan><tspan dy="7">/Vs]</tspan></text>
</svg>
</body></html>
